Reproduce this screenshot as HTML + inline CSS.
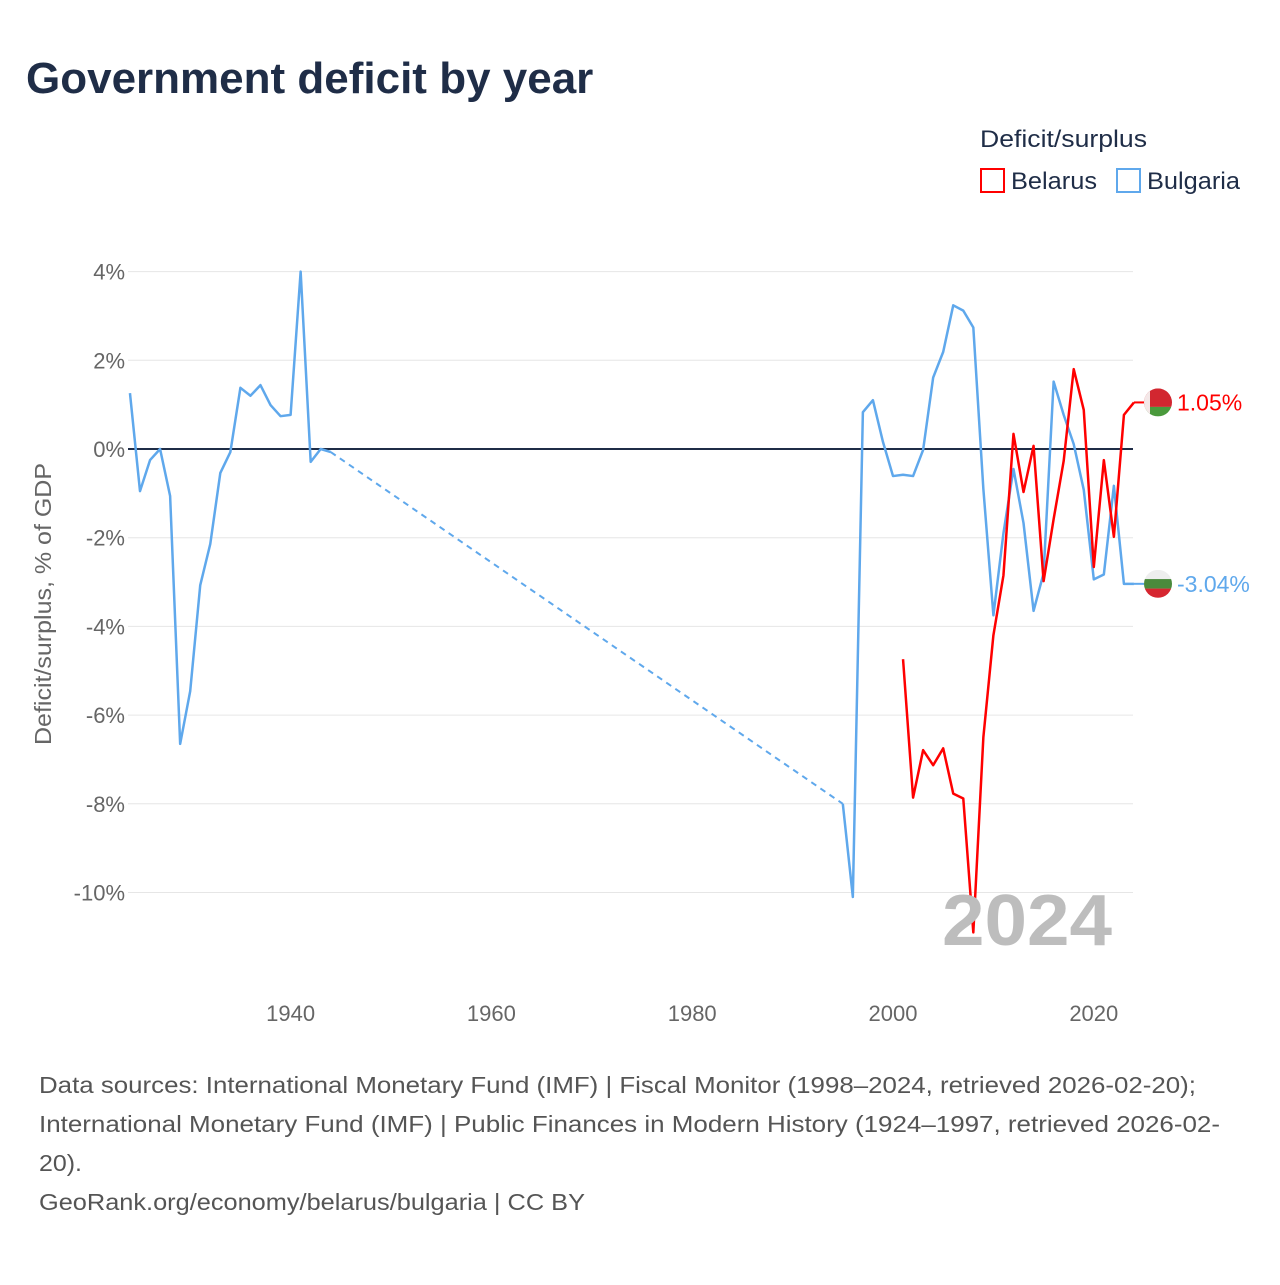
<!DOCTYPE html>
<html><head><meta charset="utf-8"><style>
body{margin:0;background:#fff;width:1280px;height:1280px;overflow:hidden;font-family:"Liberation Sans",sans-serif}
</style></head><body>
<svg width="1280" height="1280" id="c" xmlns="http://www.w3.org/2000/svg" font-family="Liberation Sans, sans-serif">
<defs>
<clipPath id="clipBy"><circle cx="1158" cy="0" r="14" id="cBy"/></clipPath>
<clipPath id="clipBg"><circle cx="1158" cy="0" r="14" id="cBg"/></clipPath>
</defs>
<text x="26" y="93" font-size="44" font-weight="bold" fill="#1f2d47">Government deficit by year</text>
<text x="980" y="147" font-size="24" fill="#1f2d47" textLength="167" lengthAdjust="spacingAndGlyphs">Deficit/surplus</text>
<g><rect x="981" y="169" width="23" height="23" fill="none" stroke="#ff0000" stroke-width="2"/><text x="1011" y="189" font-size="24" fill="#1f2d47" textLength="86" lengthAdjust="spacingAndGlyphs">Belarus</text></g>
<g><rect x="1117" y="169" width="23" height="23" fill="none" stroke="#5fa8ec" stroke-width="2"/><text x="1147" y="189" font-size="24" fill="#1f2d47" textLength="93" lengthAdjust="spacingAndGlyphs">Bulgaria</text></g>
<text transform="translate(51,604) rotate(-90)" text-anchor="middle" font-size="23" fill="#666" textLength="282" lengthAdjust="spacingAndGlyphs">Deficit/surplus, % of GDP</text>
<g id="grid"></g><g id="marks"></g>
<text x="942" y="945" font-size="72" font-weight="bold" fill="#bdbdbd" textLength="170" lengthAdjust="spacingAndGlyphs">2024</text>
<g font-size="23" fill="#555">
<text x="39" y="1093" textLength="1157" lengthAdjust="spacingAndGlyphs">Data sources: International Monetary Fund (IMF) | Fiscal Monitor (1998–2024, retrieved 2026-02-20);</text>
<text x="39" y="1132" textLength="1181" lengthAdjust="spacingAndGlyphs">International Monetary Fund (IMF) | Public Finances in Modern History (1924–1997, retrieved 2026-02-</text>
<text x="39" y="1171" textLength="43" lengthAdjust="spacingAndGlyphs">20).</text>
<text x="39" y="1210" textLength="546" lengthAdjust="spacingAndGlyphs">GeoRank.org/economy/belarus/bulgaria | CC BY</text>
</g>
</svg>
<script>
const yTicks=[4,2,0,-2,-4,-6,-8,-10];
const xTicks=[1940,1960,1980,2000,2020];
const bgYearsA=[1924,1925,1926,1927,1928,1929,1930,1931,1932,1933,1934,1935,1936,1937,1938,1939,1940,1941,1942,1943,1944];
const bgValsA=[1.26,-0.95,-0.25,0,-1.06,-6.65,-5.46,-3.07,-2.14,-0.54,-0.07,1.38,1.2,1.44,0.99,0.74,0.77,4.0,-0.29,0,-0.07];
const bgYearsB=[1995,1996,1997,1998,1999,2000,2001,2002,2003,2004,2005,2006,2007,2008,2009,2010,2011,2012,2013,2014,2015,2016,2017,2018,2019,2020,2021,2022,2023,2024];
const bgValsB=[-8.0,-10.1,0.83,1.1,0.16,-0.61,-0.58,-0.61,-0.02,1.61,2.19,3.24,3.12,2.74,-0.9,-3.75,-1.9,-0.45,-1.67,-3.65,-2.8,1.52,0.77,0.11,-0.92,-2.94,-2.83,-0.83,-3.04,-3.04];
const byYears=[2001,2002,2003,2004,2005,2006,2007,2008,2009,2010,2011,2012,2013,2014,2015,2016,2017,2018,2019,2020,2021,2022,2023,2024];
const byVals=[-4.74,-7.86,-6.79,-7.13,-6.75,-7.77,-7.88,-10.9,-6.5,-4.2,-2.85,0.34,-0.97,0.07,-2.98,-1.58,-0.27,1.8,0.88,-2.66,-0.25,-1.98,0.77,1.05];
const X=y=>893+(y-2000)*10.04;
const Y=v=>449-v*44.35;
const NS="http://www.w3.org/2000/svg";
const grid=document.getElementById('grid'),marks=document.getElementById('marks');
function mk(tag,attrs,parent){const e=document.createElementNS(NS,tag);for(const k in attrs)e.setAttribute(k,attrs[k]);parent.appendChild(e);return e;}
yTicks.forEach(t=>{
 const l=mk('line',{x1:128,x2:1133,y1:Y(t),y2:Y(t),stroke:t===0?'#1f2d47':'#e6e6e6','stroke-width':t===0?2:1},grid);
 
 
 const tx=mk('text',{x:125,y:Y(t)+8,'text-anchor':'end','font-size':22,fill:'#666'},grid);
 tx.textContent=t+'%';
 
 
});
xTicks.forEach(t=>{
 const tx=mk('text',{x:X(t),y:1021,'text-anchor':'middle','font-size':22,fill:'#666'},grid);
 tx.textContent=t;
 
 
});
function pts(ys,vs){return ys.map((y,i)=>X(y)+','+Y(vs[i])).join(' ');}
let p=mk('polyline',{points:pts(bgYearsA,bgValsA),fill:'none',stroke:'#5fa8ec','stroke-width':2.5,'stroke-linejoin':'round'},marks);


p=mk('line',{x1:X(bgYearsA[bgYearsA.length-1]),y1:Y(bgValsA[bgValsA.length-1]),x2:X(bgYearsB[0]),y2:Y(bgValsB[0]),stroke:'#5fa8ec','stroke-width':2,'stroke-dasharray':'6,5'},marks);


p=mk('polyline',{points:pts(bgYearsB,bgValsB),fill:'none',stroke:'#5fa8ec','stroke-width':2.5,'stroke-linejoin':'round'},marks);


p=mk('polyline',{points:pts(byYears,byVals),fill:'none',stroke:'#ff0000','stroke-width':2.5,'stroke-linejoin':'round'},marks);


function flag(v,stripes,color,label,name,clipId,circId,white){
 const cy=Y(v),cx=1158;
 document.getElementById(circId).setAttribute('cy',cy);
 const g=mk('g',{},marks);
 
 
 mk('line',{x1:1134,x2:1144,y1:cy,y2:cy,stroke:color,'stroke-width':2},g);
 const fg=mk('g',{'clip-path':'url(#'+clipId+')'},g);
 let y0=cy-14;
 stripes.forEach(s=>{mk('rect',{x:cx-14,y:y0,width:28,height:28*s[0],fill:s[1]},fg);y0+=28*s[0];});
 if(white){mk('rect',{x:cx-14,y:cy-14,width:6,height:28,fill:'#f4e8e8'},fg);}
 const t=mk('text',{x:1177,y:cy+8,'font-size':23,fill:color},g);
 t.textContent=label;
}
flag(byVals[byVals.length-1],[[0.66,'#d22730'],[0.34,'#4a9a3c']],'#ff0000',byVals[byVals.length-1].toFixed(2)+'%','belarus-end-label','clipBy','cBy',true);
flag(bgValsB[bgValsB.length-1],[[0.33,'#eeeeee'],[0.34,'#4a8a3c'],[0.33,'#d62630']],'#5fa8ec',bgValsB[bgValsB.length-1].toFixed(2)+'%','bulgaria-end-label','clipBg','cBg',false);
</script>
</body></html>
